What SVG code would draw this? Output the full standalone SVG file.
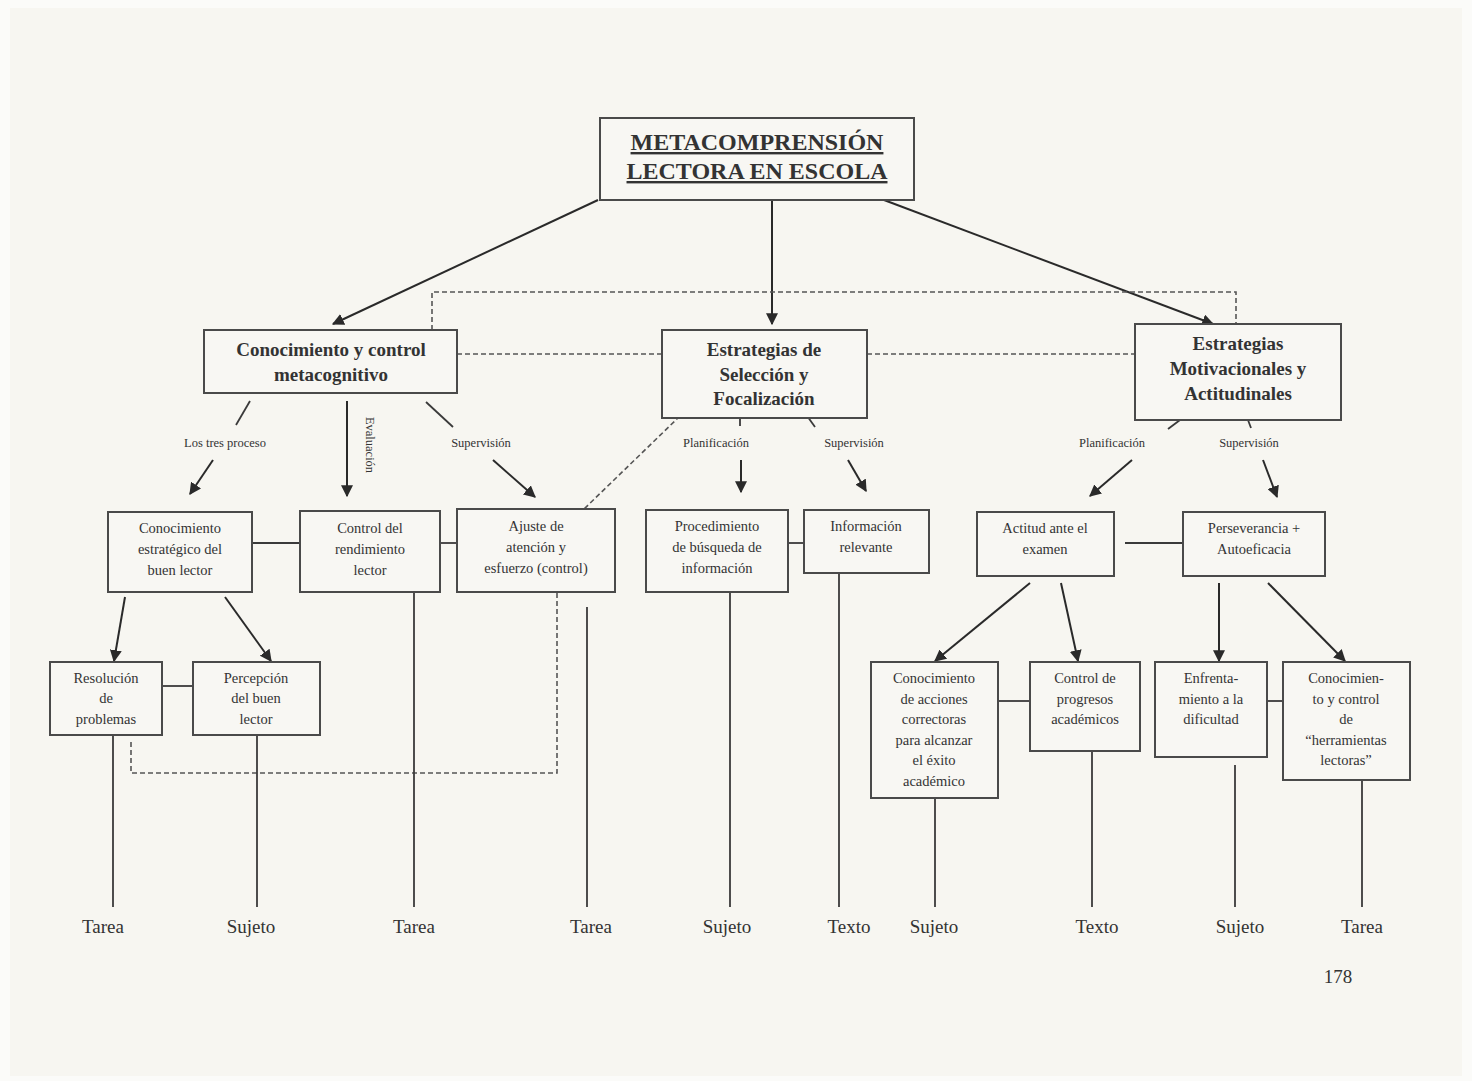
<svg xmlns="http://www.w3.org/2000/svg" width="1472" height="1081" viewBox="0 0 1472 1081">
<defs>
<marker id="ah" viewBox="0 0 10 10" refX="9" refY="5" markerWidth="7" markerHeight="7" orient="auto" markerUnits="userSpaceOnUse">
<path d="M0,0 L10,5 L0,10 z" fill="#2a2a2a"/>
</marker>
<marker id="ahb" viewBox="0 0 10 10" refX="9" refY="5" markerWidth="12" markerHeight="12" orient="auto" markerUnits="userSpaceOnUse">
<path d="M0,0 L10,5 L0,10 z" fill="#2a2a2a"/>
</marker>
<style>
.box{fill:#f8f7f3;stroke:#4a4a4a;stroke-width:2}
.t{font-family:"Liberation Serif",serif;fill:#333;text-anchor:middle}
.title{font-size:24px;font-weight:bold;text-decoration:underline}
.h{font-size:19px;font-weight:bold}
.b{font-size:14.5px}
.lbl{font-size:12.5px}
.bot{font-size:19px}
.ln{stroke:#3a3a3a;stroke-width:1.8;fill:none}
.ar{stroke:#2a2a2a;stroke-width:2;fill:none;marker-end:url(#ahb)}
.ds{stroke:#555;stroke-width:1.6;fill:none;stroke-dasharray:5 3}
</style>
</defs>
<rect width="1472" height="1081" fill="#fbfbf9"/>
<rect x="10" y="8" width="1452" height="1068" fill="#f7f6f1"/>

<g id="connectors">
<line class="ar" x1="598" y1="200" x2="333" y2="324"/>
<line class="ar" x1="772" y1="200" x2="772" y2="324"/>
<line class="ar" x1="884" y1="200" x2="1213" y2="324"/>
<line class="ds" x1="457" y1="354" x2="662" y2="354"/>
<line class="ds" x1="867" y1="354" x2="1135" y2="354"/>
<path class="ds" d="M432,330 V292 H1236 V324"/>
<line class="ds" x1="680" y1="416" x2="583" y2="510"/>
<line class="ln" x1="250" y1="401" x2="236" y2="425"/>
<line class="ar" x1="213" y1="460" x2="190" y2="494"/>
<line class="ar" x1="347" y1="401" x2="347" y2="496"/>
<line class="ln" x1="426" y1="402" x2="453" y2="427"/>
<line class="ar" x1="493" y1="460" x2="535" y2="497"/>
<line class="ln" x1="740" y1="418" x2="740" y2="426"/>
<line class="ar" x1="741" y1="460" x2="741" y2="492"/>
<line class="ln" x1="805" y1="413" x2="815" y2="427"/>
<line class="ar" x1="848" y1="460" x2="866" y2="491"/>
<line class="ln" x1="1180" y1="420" x2="1168" y2="429"/>
<line class="ar" x1="1132" y1="460" x2="1090" y2="496"/>
<line class="ln" x1="1248" y1="420" x2="1251" y2="428"/>
<line class="ar" x1="1263" y1="460" x2="1277" y2="497"/>
<line class="ln" x1="252" y1="543" x2="300" y2="543"/>
<line class="ln" x1="440" y1="543" x2="457" y2="543"/>
<line class="ln" x1="788" y1="543" x2="804" y2="543"/>
<line class="ln" x1="1125" y1="543" x2="1183" y2="543"/>
<line class="ar" x1="125" y1="597" x2="114" y2="661"/>
<line class="ar" x1="225" y1="597" x2="271" y2="661"/>
<line class="ln" x1="162" y1="686" x2="193" y2="686"/>
<path class="ds" d="M557,593 V773 H131 V740"/>
<line class="ar" x1="1030" y1="583" x2="935" y2="661"/>
<line class="ar" x1="1061" y1="583" x2="1078" y2="661"/>
<line class="ar" x1="1219" y1="583" x2="1219" y2="661"/>
<line class="ar" x1="1268" y1="583" x2="1345" y2="661"/>
<line class="ln" x1="998" y1="701" x2="1030" y2="701"/>
<line class="ln" x1="1267" y1="701" x2="1283" y2="701"/>
<line class="ln" x1="113" y1="735" x2="113" y2="907"/>
<line class="ln" x1="257" y1="735" x2="257" y2="907"/>
<line class="ln" x1="414" y1="592" x2="414" y2="907"/>
<line class="ln" x1="587" y1="607" x2="587" y2="907"/>
<line class="ln" x1="730" y1="592" x2="730" y2="907"/>
<line class="ln" x1="839" y1="573" x2="839" y2="907"/>
<line class="ln" x1="935" y1="798" x2="935" y2="907"/>
<line class="ln" x1="1092" y1="751" x2="1092" y2="907"/>
<line class="ln" x1="1235" y1="765" x2="1235" y2="907"/>
<line class="ln" x1="1362" y1="780" x2="1362" y2="907"/>
</g>

<g id="edge-labels">
<text class="t lbl" x="225" y="447">Los tres proceso</text>
<text class="t lbl" transform="translate(366,445) rotate(90)" y="0" x="0">Evaluación</text>
<text class="t lbl" x="481" y="447">Supervisión</text>
<text class="t lbl" x="716" y="447">Planificación</text>
<text class="t lbl" x="854" y="447">Supervisión</text>
<text class="t lbl" x="1112" y="447">Planificación</text>
<text class="t lbl" x="1249" y="447">Supervisión</text>
</g>

<g id="n-title">
<rect class="box" x="600" y="118" width="314" height="82"/>
<text class="t title" x="757" y="150">METACOMPRENSIÓN</text>
<text class="t title" x="757" y="179">LECTORA EN ESCOLA</text>
</g>
<g id="n-conocimiento-control">
<rect class="box" x="204" y="330" width="253" height="63"/>
<text class="t h" x="331" y="356">Conocimiento y control</text>
<text class="t h" x="331" y="381">metacognitivo</text>
</g>
<g id="n-estrategias-seleccion">
<rect class="box" x="662" y="330" width="205" height="88"/>
<text class="t h" x="764" y="356">Estrategias de</text>
<text class="t h" x="764" y="381">Selección y</text>
<text class="t h" x="764" y="405">Focalización</text>
</g>
<g id="n-estrategias-motivacionales">
<rect class="box" x="1135" y="324" width="206" height="96"/>
<text class="t h" x="1238" y="350">Estrategias</text>
<text class="t h" x="1238" y="375">Motivacionales y</text>
<text class="t h" x="1238" y="400">Actitudinales</text>
</g>

<g id="n-conoc-estrategico">
<rect class="box" x="108" y="512" width="144" height="80"/>
<text class="t b" x="180" y="533">Conocimiento</text>
<text class="t b" x="180" y="554">estratégico del</text>
<text class="t b" x="180" y="575">buen lector</text>
</g>
<g id="n-control-rendimiento">
<rect class="box" x="300" y="511" width="140" height="81"/>
<text class="t b" x="370" y="533">Control del</text>
<text class="t b" x="370" y="554">rendimiento</text>
<text class="t b" x="370" y="575">lector</text>
</g>
<g id="n-ajuste">
<rect class="box" x="457" y="509" width="158" height="83"/>
<text class="t b" x="536" y="531">Ajuste de</text>
<text class="t b" x="536" y="552">atención y</text>
<text class="t b" x="536" y="573">esfuerzo (control)</text>
</g>
<g id="n-procedimiento">
<rect class="box" x="646" y="510" width="142" height="82"/>
<text class="t b" x="717" y="531">Procedimiento</text>
<text class="t b" x="717" y="552">de búsqueda de</text>
<text class="t b" x="717" y="573">información</text>
</g>
<g id="n-informacion">
<rect class="box" x="804" y="510" width="125" height="63"/>
<text class="t b" x="866" y="531">Información</text>
<text class="t b" x="866" y="552">relevante</text>
</g>
<g id="n-actitud">
<rect class="box" x="977" y="512" width="137" height="64"/>
<text class="t b" x="1045" y="533">Actitud ante el</text>
<text class="t b" x="1045" y="554">examen</text>
</g>
<g id="n-perseverancia">
<rect class="box" x="1183" y="512" width="142" height="64"/>
<text class="t b" x="1254" y="533">Perseverancia +</text>
<text class="t b" x="1254" y="554">Autoeficacia</text>
</g>

<g id="n-resolucion">
<rect class="box" x="50" y="662" width="112" height="73"/>
<text class="t b" x="106" y="683">Resolución</text>
<text class="t b" x="106" y="703">de</text>
<text class="t b" x="106" y="724">problemas</text>
</g>
<g id="n-percepcion">
<rect class="box" x="193" y="662" width="127" height="73"/>
<text class="t b" x="256" y="683">Percepción</text>
<text class="t b" x="256" y="703">del buen</text>
<text class="t b" x="256" y="724">lector</text>
</g>
<g id="n-acciones">
<rect class="box" x="871" y="662" width="127" height="136"/>
<text class="t b" x="934" y="683">Conocimiento</text>
<text class="t b" x="934" y="704">de acciones</text>
<text class="t b" x="934" y="724">correctoras</text>
<text class="t b" x="934" y="745">para alcanzar</text>
<text class="t b" x="934" y="765">el éxito</text>
<text class="t b" x="934" y="786">académico</text>
</g>
<g id="n-progresos">
<rect class="box" x="1030" y="662" width="110" height="89"/>
<text class="t b" x="1085" y="683">Control de</text>
<text class="t b" x="1085" y="704">progresos</text>
<text class="t b" x="1085" y="724">académicos</text>
</g>
<g id="n-enfrentamiento">
<rect class="box" x="1155" y="662" width="112" height="95"/>
<text class="t b" x="1211" y="683">Enfrenta-</text>
<text class="t b" x="1211" y="704">miento a la</text>
<text class="t b" x="1211" y="724">dificultad</text>
</g>
<g id="n-herramientas">
<rect class="box" x="1283" y="662" width="127" height="118"/>
<text class="t b" x="1346" y="683">Conocimien-</text>
<text class="t b" x="1346" y="704">to y control</text>
<text class="t b" x="1346" y="724">de</text>
<text class="t b" x="1346" y="745">“herramientas</text>
<text class="t b" x="1346" y="765">lectoras”</text>
</g>

<g id="bottom-labels">
<text class="t bot" x="103" y="933">Tarea</text>
<text class="t bot" x="251" y="933">Sujeto</text>
<text class="t bot" x="414" y="933">Tarea</text>
<text class="t bot" x="591" y="933">Tarea</text>
<text class="t bot" x="727" y="933">Sujeto</text>
<text class="t bot" x="849" y="933">Texto</text>
<text class="t bot" x="934" y="933">Sujeto</text>
<text class="t bot" x="1097" y="933">Texto</text>
<text class="t bot" x="1240" y="933">Sujeto</text>
<text class="t bot" x="1362" y="933">Tarea</text>
<text class="t bot" x="1338" y="983">178</text>
</g>
</svg>
